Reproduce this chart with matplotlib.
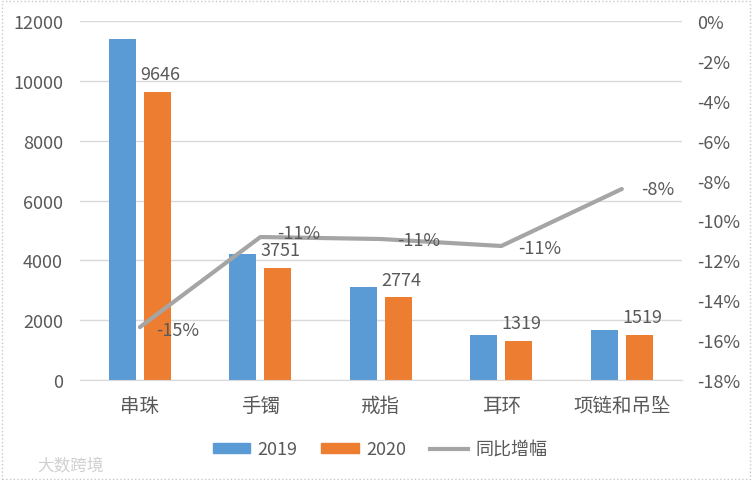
import matplotlib
matplotlib.use("Agg")
import matplotlib.pyplot as plt
from matplotlib.patches import Rectangle
from matplotlib.lines import Line2D
from matplotlib.ticker import FuncFormatter

plt.rcParams['font.family'] = ['Noto Sans CJK SC', 'DejaVu Sans']

categories = ['串珠', '手镯', '戒指', '耳环', '项链和吊坠']
sales_2019 = [11390, 4207, 3114, 1487, 1659]
sales_2020 = [9646, 3751, 2774, 1319, 1519]
growth = [-0.1535, -0.1083, -0.1093, -0.1128, -0.0842]
growth_labels = ['-15%', '-11%', '-11%', '-11%', '-8%']

blue = '#5B9BD5'
orange = '#ED7D31'
gray = '#A5A5A5'
text_color = '#595959'

fig = plt.figure(figsize=(7.52, 4.81), dpi=100)
ax = fig.add_axes([0.106, 0.208, 0.801, 0.746])
ax2 = ax.twinx()

x = list(range(len(categories)))
w = 0.225
gap = 0.033
ax.bar([i - w / 2 - gap for i in x], sales_2019, width=w, color=blue, zorder=2)
ax.bar([i + w / 2 + gap for i in x], sales_2020, width=w, color=orange, zorder=2)

for i, v in zip(x, sales_2020):
    ax.annotate(str(v), (i + w / 2 + gap, v), xytext=(2, 6), textcoords='offset points',
                ha='center', va='bottom', fontsize=13, color=text_color)

ax.set_xlim(-0.5, len(categories) - 0.5)
ax.set_ylim(0, 12000)
ax.set_yticks(range(0, 12001, 2000))
ax.grid(axis='y', color='#D9D9D9', linewidth=1, zorder=0)
ax.set_axisbelow(True)
ax.set_xticks(x)
ax.set_xticklabels(categories, fontsize=14, color=text_color)
ax.tick_params(axis='both', length=0, labelsize=13, colors=text_color)
ax.tick_params(axis='x', pad=11, labelsize=14)
ax.tick_params(axis='y', pad=12)
for name in ['top', 'left', 'right']:
    ax.spines[name].set_visible(False)
ax.spines['bottom'].set_color('#D9D9D9')

ax2.plot(x, growth, color=gray, linewidth=3, solid_capstyle='round', zorder=3)
offsets = [(12, -2), (12, 3), (12, -1), (12, -1.5), (14, 0)]
for i, g, lab, off in zip(x, growth, growth_labels, offsets):
    ax2.annotate(lab, (i, g), xytext=off, textcoords='offset points',
                 ha='left', va='center', fontsize=13, color=text_color)
ax2.set_ylim(-0.18, 0)
ax2.set_yticks([-0.18 + 0.02 * k for k in range(10)])
ax2.yaxis.set_major_formatter(FuncFormatter(lambda v, p: f'{round(v * 100)}%'))
ax2.tick_params(axis='y', length=0, labelsize=13, colors=text_color, pad=11)
for name in ['top', 'left', 'right', 'bottom']:
    ax2.spines[name].set_visible(False)

handles = [Rectangle((0, 0), 1, 1, color=blue), Rectangle((0, 0), 1, 1, color=orange),
           Line2D([0], [0], color=gray, linewidth=3)]
fig.legend(handles, ['2019', '2020', '同比增幅'], loc='center', bbox_to_anchor=(0.505, 0.064),
           ncol=3, frameon=False, fontsize=13, labelcolor=text_color,
           handlelength=2.1, handleheight=0.45, columnspacing=1.3, handletextpad=0.4)

fig.text(0.05, 0.03, '大数跨境', fontsize=12, color='#D0D0D0', ha='left', va='center')
fig.patches.append(Rectangle((0.002, 0.003), 0.995, 0.993, transform=fig.transFigure,
                             fill=False, edgecolor='#C8C8C8', linewidth=1, linestyle=':'))

fig.savefig('out.png', dpi=100)
